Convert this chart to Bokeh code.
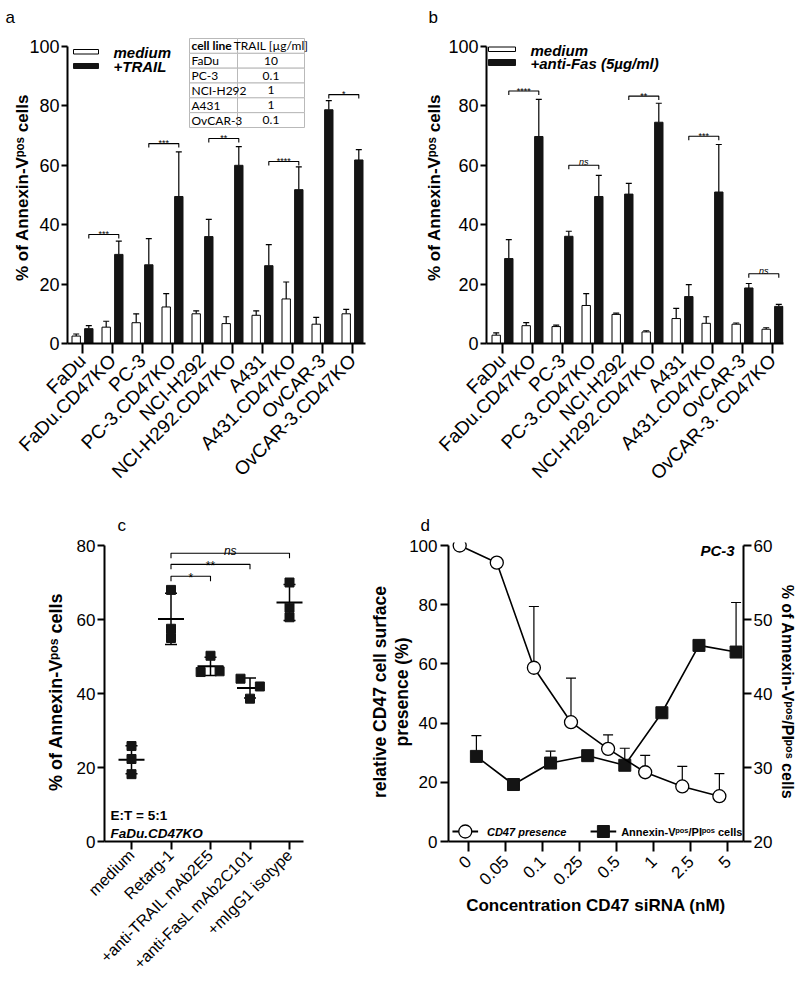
import math
import numpy as np
from bokeh.plotting import figure
from bokeh.models import Range1d, LinearAxis, FixedTicker, Whisker, TeeHead, ColumnDataSource
from bokeh.layouts import row, column
from bokeh.embed import file_html
from bokeh.resources import INLINE
from bokeh.core.properties import value

FONT = "Liberation Sans"
TFONT = "Lato"

# ---------------- data: panel a ----------------
a_lines = ["FaDu", "FaDu.CD47KO", "PC-3", "PC-3.CD47KO", "NCI-H292", "NCI-H292.CD47KO",
           "A431", "A431.CD47KO", "OvCAR-3", "OvCAR-3.CD47KO"]
a_medium = [2.5, 5.5, 7.0, 12.3, 10.0, 6.7, 9.5, 15.0, 6.5, 10.0]
a_medium_err = [0.7, 2.0, 3.0, 4.5, 1.0, 2.3, 1.5, 5.7, 2.3, 1.5]
a_trail = [5.0, 30.0, 26.5, 49.5, 36.0, 60.0, 26.2, 51.8, 78.7, 61.8]
a_trail_err = [1.0, 4.5, 8.8, 15.0, 5.8, 6.3, 7.1, 7.7, 3.1, 3.5]
a_sig_pairs = [(0, 1), (2, 3), (4, 5), (6, 7), (8, 9)]
a_sig_heights = [36.7, 67.3, 69.0, 61.3, 83.8]
a_sig_labels = ["***", "***", "**", "****", "*"]
table_header = ["cell line", "TRAIL [µg/ml]"]
table_lines = ["FaDu", "PC-3", "NCI-H292", "A431", "OvCAR-3"]
table_trail = ["10", "0.1", "1", "1", "0.1"]

# ---------------- data: panel b ----------------
b_lines = ["FaDu", "FaDu.CD47KO", "PC-3", "PC-3.CD47KO", "NCI-H292", "NCI-H292.CD47KO",
           "A431", "A431.CD47KO", "OvCAR-3", "OvCAR-3. CD47KO"]
b_medium = [2.8, 6.0, 5.7, 12.8, 9.8, 3.9, 8.4, 6.8, 6.5, 4.8]
b_medium_err = [0.8, 1.0, 0.5, 4.0, 0.4, 0.4, 3.4, 2.2, 0.4, 0.5]
b_fas = [28.6, 69.7, 36.1, 49.5, 50.3, 74.5, 15.8, 51.0, 18.7, 12.5]
b_fas_err = [6.4, 12.5, 1.7, 7.1, 3.6, 6.4, 4.0, 16.0, 1.5, 0.7]
b_sig_pairs = [(0, 1), (2, 3), (4, 5), (6, 7), (8, 9)]
b_sig_heights = [85.0, 60.0, 83.3, 69.8, 23.5]
b_sig_labels = ["****", "ns", "**", "***", "ns"]

# ---------------- data: panel c ----------------
c_groups = ["medium", "Retarg-1", "+anti-TRAIL mAb2E5", "+anti-FasL mAb2C101", "+mIgG1 isotype"]
c_values = [[25.8, 22.3, 18.2], [68.0, 57.5, 55.0], [50.2, 46.0, 45.8], [44.0, 41.9, 38.6], [70.0, 63.2, 60.6]]
c_sig_pairs = [(1, 2), (1, 3), (1, 4)]
c_sig_heights = [71.7, 74.9, 77.9]
c_sig_labels = ["*", "**", "ns"]

# ---------------- data: panel d ----------------
d_conc = ["0", "0.05", "0.1", "0.25", "0.5", "1", "2.5", "5"]
d_cd47 = [100.0, 94.2, 58.7, 40.3, 31.3, 23.4, 18.6, 15.3]
d_cd47_err = [0.0, 0.0, 20.7, 14.9, 4.7, 5.7, 6.8, 7.6]
d_annexin = [31.5, 27.7, 30.6, 31.6, 30.3, 37.4, 46.5, 45.6]
d_annexin_err = [2.8, 0.6, 1.6, 0.0, 2.3, 0.0, 0.0, 6.7]

# ---------------- style / positions ----------------
C_JITTER = [[0, 0, 0], [0, 0, 0], [0, 0.23, -0.25], [-0.24, 0.25, 0], [0, 0, 0]]
OFF = 0.21
BW = 0.28
BLACK = "#141414"
SUP = "\u1d56\u1d52\u02e2"  # superscript "pos"


def conv(fl, fr, x0, x1, ft, fb, y0, y1):
    kx = (x1 - x0) / (fr - fl)
    ky = (y1 - y0) / (fb - ft)
    return (lambda px: x0 + (px - fl) * kx), (lambda py: y0 + (fb - py) * ky), kx, ky


def base_fig(w, h, l, r, t, b, xr, yr):
    p = figure(width=w, height=h, x_range=Range1d(*xr), y_range=Range1d(*yr),
               output_backend="svg", toolbar_location=None,
               min_border_left=l, min_border_right=r, min_border_top=t, min_border_bottom=b)
    p.xgrid.grid_line_color = None
    p.ygrid.grid_line_color = None
    p.outline_line_color = None
    p.background_fill_color = "white"
    p.border_fill_color = "white"
    return p


def panel_letter(p, letter, offset, standoff):
    p.title.text = letter
    p.title.align = "left"
    p.title.offset = offset
    p.title.standoff = standoff
    p.title.text_font = FONT
    p.title.text_font_size = "17px"
    p.title.text_font_style = "normal"
    p.title.text_color = "black"


def style_axis(ax, size, tick_out, standoff=3):
    ax.axis_line_width = 2
    ax.axis_line_color = "black"
    ax.major_tick_line_width = 2
    ax.major_tick_line_color = "black"
    ax.major_tick_out = tick_out
    ax.major_tick_in = 0
    ax.minor_tick_line_color = None
    ax.major_label_text_font = FONT
    ax.major_label_text_font_size = f"{size}px"
    ax.major_label_text_color = "black"
    ax.major_label_standoff = standoff
    ax.axis_label_text_font = FONT
    ax.axis_label_text_font_style = "bold"
    ax.axis_label_text_color = "black"


def up_whisker(p, xs, ys, errs, head, lw=1.2, rname=None, both=False):
    keep = [i for i, e in enumerate(errs) if e > 0]
    src = ColumnDataSource(dict(base=[xs[i] for i in keep],
                                lower=[ys[i] - (errs[i] if both else 0) for i in keep],
                                upper=[ys[i] + errs[i] for i in keep]))
    w = Whisker(source=src, base="base", lower="lower", upper="upper", dimension="height",
                line_width=lw, line_color="black",
                upper_head=TeeHead(size=head, line_width=lw, line_color="black"),
                lower_head=TeeHead(size=head, line_width=lw, line_color="black") if both else None)
    if rname:
        w.y_range_name = rname
    p.add_layout(w)


def brackets(p, pairs, heights, labels, off, drop, fsize, star_dy, ns_dy):
    xs, ys, tx, ty = [], [], [], []
    for (i, j), h in zip(pairs, heights):
        xs.append([i + off, i + off, j + off, j + off])
        ys.append([h - drop, h, h, h - drop])
    p.multi_line(xs=xs, ys=ys, line_color="black", line_width=1.1)
    for (i, j), h, s in zip(pairs, heights, labels):
        tx.append((i + j) / 2 + off)
        ty.append(h + (ns_dy if s == "ns" else star_dy))
    styles = ["italic" if s == "ns" else "normal" for s in labels]
    src = ColumnDataSource(dict(x=tx, y=ty, t=labels, st=styles))
    p.text(x="x", y="y", text="t", source=src, text_font=value(FONT), text_font_size=f"{fsize}px",
           text_font_style="st", text_align="center", text_baseline="alphabetic", text_color="black")


TOP_H = 505
BOT_H = 479


def bar_panel(w, l, r, fl, fr, tick0, names, med, med_err, trt, trt_err, pairs, hts, labs, lab_standoff):
    x0 = (fl - tick0) / 30.0
    x1 = (fr - tick0) / 30.0
    y1 = (343 - 31) / 2.97
    p = base_fig(w, TOP_H, l, r, 31, TOP_H - 343, (x0, x1), (0, y1))
    X, Y, kx, ky = conv(fl, fr, x0, x1, 31, 343, 0, y1)
    idx = list(range(len(names)))
    xw = [i - OFF for i in idx]
    xb = [i + OFF for i in idx]
    up_whisker(p, xw, med, med_err, 6)
    up_whisker(p, xb, trt, trt_err, 6)
    p.vbar(x=xw, top=med, width=BW, bottom=0, fill_color="white", line_color="black", line_width=1)
    p.vbar(x=xb, top=trt, width=BW, bottom=0, fill_color=BLACK, line_color=BLACK, line_width=1)
    brackets(p, pairs, hts, labs, OFF, 4 * ky, 9, 0.3 * ky, 3 * ky)
    xa = p.xaxis[0]
    ya = p.yaxis[0]
    style_axis(xa, 19, 10, 4)
    style_axis(ya, 18, 6, 2)
    xa.ticker = FixedTicker(ticks=idx)
    xa.major_label_overrides = {i: n for i, n in enumerate(names)}
    xa.major_label_orientation = math.pi / 4
    ya.ticker = FixedTicker(ticks=[0, 20, 40, 60, 80, 100])
    ya.bounds = (0, 100)
    ya.axis_label = f"% of Annexin-V{SUP} cells"
    ya.axis_label_text_font_size = "17px"
    ya.axis_label_standoff = lab_standoff
    return p, X, Y, kx, ky


# ================= panel a =================
pa, XA, YA, kxa, kya = bar_panel(400, 67, 35, 67, 365, 82, a_lines, a_medium, a_medium_err,
                                 a_trail, a_trail_err, a_sig_pairs, a_sig_heights, a_sig_labels, -6)
pa.quad(left=[XA(73)], right=[XA(98)], top=[YA(49)], bottom=[YA(53.5)],
        fill_color="white", line_color="black", line_width=1)
pa.quad(left=[XA(73)], right=[XA(98)], top=[YA(63)], bottom=[YA(68)],
        fill_color=BLACK, line_color=BLACK, line_width=1)
pa.text(x=[XA(113), XA(113)], y=[YA(52), YA(66)], text=["medium", "+TRAIL"],
        text_font=value(FONT), text_font_size="15px", text_font_style="bold italic",
        text_align="left", text_baseline="middle", text_color="black")
# table
rows = [table_header] + [[a, b] for a, b in zip(table_lines, table_trail)]
rh = (127 - 38) / 6.0
ql, qr, qt, qb = [], [], [], []
for ri in range(len(rows)):
    for (cl, cr) in [(189, 237), (237, 304)]:
        ql.append(XA(cl)); qr.append(XA(cr))
        qt.append(YA(38 + ri * rh)); qb.append(YA(38 + (ri + 1) * rh))
pa.quad(left=ql, right=qr, top=qt, bottom=qb, fill_color="white", line_color="#b9b9b9", line_width=1)
col1 = [r_[0] for r_ in rows]
col2 = [r_[1] for r_ in rows]
ycent = [YA(38 + (ri + 0.5) * rh) for ri in range(len(rows))]
st1 = ["bold"] + ["normal"] * (len(rows) - 1)
pa.text(x=[XA(191)] * len(rows), y=ycent, text=col1, text_font=value(TFONT), text_font_size="12px",
        text_font_style=st1, text_align="left", text_baseline="middle", text_color="black")
pa.text(x=[XA(270.5)] * len(rows), y=ycent, text=col2, text_font=value(TFONT), text_font_size="12px",
        text_align="center", text_baseline="middle", text_color="black")
panel_letter(pa, "a", -62, 10)

# ================= panel b =================
pb, XB, YB, kxb, kyb = bar_panel(399, 86, 16, 486, 783, 502, b_lines, b_medium, b_medium_err,
                                 b_fas, b_fas_err, b_sig_pairs, b_sig_heights, b_sig_labels, 1)
pb.quad(left=[XB(488)], right=[XB(515)], top=[YB(46.5)], bottom=[YB(51)],
        fill_color="white", line_color="black", line_width=1)
pb.quad(left=[XB(488)], right=[XB(515)], top=[YB(59)], bottom=[YB(65)],
        fill_color=BLACK, line_color=BLACK, line_width=1)
pb.text(x=[XB(530), XB(530)], y=[YB(50), YB(63)], text=["medium", "+anti-Fas (5µg/ml)"],
        text_font=value(FONT), text_font_size="15px", text_font_style="bold italic",
        text_align="left", text_baseline="middle", text_color="black")
panel_letter(pb, "b", -58, 10)

# ================= panel c =================
cx0, cx1 = (104 - 131) / 39.5, (303 - 131) / 39.5
cy1 = (841 - 542) / 3.7
pc = base_fig(366, BOT_H, 104, 63, 37, BOT_H - (841 - TOP_H), (cx0, cx1), (0, cy1))
XC, YC, kxc, kyc = conv(104, 303, cx0, cx1, 542, 841, 0, cy1)
gidx = list(range(len(c_groups)))
means = [float(np.mean(v)) for v in c_values]
sds = [float(np.std(v, ddof=1)) for v in c_values]
up_whisker(pc, gidx, means, sds, 12, lw=1.5, both=True)
pc.scatter(x=gidx, y=means, marker="dash", size=26, line_width=2, line_color="black")
px_, py_ = [], []
for g, vals in enumerate(c_values):
    for k, v in enumerate(vals):
        px_.append(g + C_JITTER[g][k]); py_.append(v)
pc.scatter(x=px_, y=py_, marker="square", size=9, fill_color=BLACK, line_color=BLACK)
brackets(pc, c_sig_pairs, c_sig_heights, c_sig_labels, 0.0, 5 * kyc, 12, -2 * kyc, 1.8 * kyc)
pc.text(x=[XC(110)], y=[YC(815)], text=["E:T = 5:1"], text_font=value(FONT), text_font_size="13.5px",
        text_font_style="bold", text_align="left", text_baseline="middle", text_color="black")
pc.text(x=[XC(110)], y=[YC(833)], text=["FaDu.CD47KO"], text_font=value(FONT), text_font_size="13.5px",
        text_font_style="bold italic", text_align="left", text_baseline="middle", text_color="black")
xa = pc.xaxis[0]
ya = pc.yaxis[0]
style_axis(xa, 16, 8, 3)
style_axis(ya, 17, 7, 2)
xa.ticker = FixedTicker(ticks=gidx)
xa.major_label_overrides = {i: n for i, n in enumerate(c_groups)}
xa.major_label_orientation = math.pi / 4
ya.ticker = FixedTicker(ticks=[0, 20, 40, 60, 80])
ya.bounds = (0, 80)
ya.axis_label = f"% of Annexin-V{SUP} cells"
ya.axis_label_text_font_size = "18px"
ya.axis_label_standoff = 8
panel_letter(pc, "c", 13, 15)

# ================= panel d =================
dx0, dx1 = (447 - 467) / 37.6, (746 - 467) / 37.6
dy1 = 100 * (841 - 542) / 296.0
ry1 = 20 + 40 * (841 - 542) / 296.0
pd_ = base_fig(433, BOT_H, 81, 53, 37, BOT_H - (841 - TOP_H), (dx0, dx1), (0, dy1))
XD, YD, kxd, kyd = conv(447, 746, dx0, dx1, 542, 841, 0, dy1)
pd_.extra_y_ranges = {"r": Range1d(20, ry1)}
nidx = list(range(len(d_conc)))
cxs = [i - 0.23 for i in nidx]
sxs = [i + 0.22 for i in nidx]
up_whisker(pd_, cxs, d_cd47, d_cd47_err, 10, lw=1.2)
up_whisker(pd_, sxs, d_annexin, d_annexin_err, 10, lw=1.2, rname="r")
pd_.line(x=sxs, y=d_annexin, line_color="black", line_width=1.6, y_range_name="r")
pd_.scatter(x=sxs, y=d_annexin, marker="square", size=12, fill_color=BLACK, line_color=BLACK, y_range_name="r")
pd_.line(x=cxs, y=d_cd47, line_color="black", line_width=1.6)
pd_.scatter(x=cxs, y=d_cd47, marker="circle", size=13, fill_color="white", line_color="black", line_width=1.3)
# legend
ly = YD(831)
pd_.line(x=[XD(451), XD(477)], y=[ly, ly], line_color="black", line_width=2)
pd_.scatter(x=[XD(464)], y=[ly], marker="circle", size=13, fill_color="white", line_color="black", line_width=1.3)
pd_.line(x=[XD(591), XD(617)], y=[ly, ly], line_color="black", line_width=2)
pd_.scatter(x=[XD(604)], y=[ly], marker="square", size=12, fill_color=BLACK, line_color=BLACK)
pd_.text(x=[XD(486)], y=[ly], text=["CD47 presence"], text_font=value(FONT), text_font_size="11px",
         text_font_style="bold italic", text_align="left", text_baseline="middle", text_color="black")
pd_.text(x=[XD(622)], y=[ly], text=[f"Annexin-V{SUP}/PI{SUP} cells"], text_font=value(FONT),
         text_font_size="11px", text_font_style="bold", text_align="left", text_baseline="middle",
         text_color="black")
pd_.text(x=[XD(737)], y=[YD(550)], text=["PC-3"], text_font=value(FONT), text_font_size="15px",
         text_font_style="bold italic", text_align="right", text_baseline="middle", text_color="black")
xa = pd_.xaxis[0]
ya = pd_.yaxis[0]
style_axis(xa, 17, 10, 7)
style_axis(ya, 17, 8, 3)
xa.ticker = FixedTicker(ticks=nidx)
xa.major_label_overrides = {i: n for i, n in enumerate(d_conc)}
xa.major_label_orientation = math.pi / 4
xa.axis_label = "Concentration CD47 siRNA (nM)"
xa.axis_label_text_font_size = "17px"
xa.axis_label_standoff = 3
ya.ticker = FixedTicker(ticks=[0, 20, 40, 60, 80, 100])
ya.bounds = (0, 100)
ya.axis_label = "presence (%)"
ya.axis_label_text_font_size = "17.5px"
ya.axis_label_standoff = -6
outer = LinearAxis(ticker=FixedTicker(ticks=[]), bounds=(0, 100))
style_axis(outer, 17, 0, 0)
outer.axis_line_color = None
outer.major_tick_line_color = None
outer.axis_label = "relative CD47 cell surface"
outer.axis_label_text_font_size = "17.5px"
outer.axis_label_standoff = 0
pd_.add_layout(outer, "left")
ra = LinearAxis(y_range_name="r")
style_axis(ra, 17, 8, 2)
ra.ticker = FixedTicker(ticks=[20, 30, 40, 50, 60])
ra.bounds = (20, 60)
ra.axis_label = f"% of Annexin-V{SUP}/PI{SUP} cells"
ra.axis_label_text_font_size = "16px"
ra.axis_label_standoff = 4
pd_.add_layout(ra, "right")
panel_letter(pd_, "d", -28, 15)

layout = column(row(pa, pb), row(pc, pd_))
open("out.html", "w").write(file_html(layout, INLINE))
